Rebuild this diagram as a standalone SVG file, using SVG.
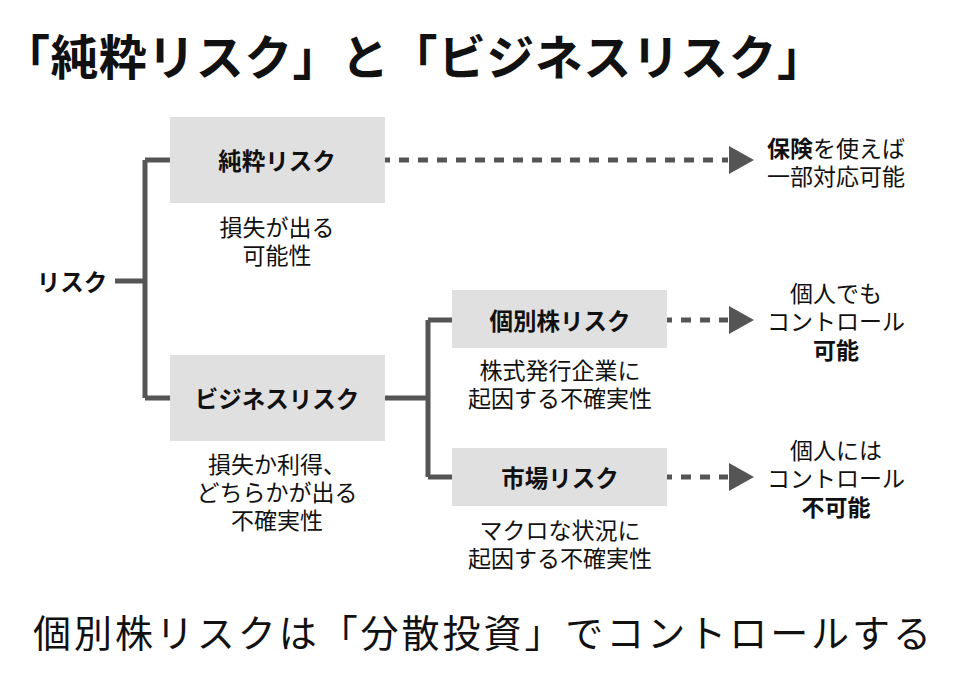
<svg xmlns="http://www.w3.org/2000/svg" width="968" height="679" viewBox="0 0 968 679">
<style>
text{font-family:"Noto Sans CJK JP","Noto Sans CJK SC",sans-serif;fill:#111;text-anchor:middle;dominant-baseline:central}
.b{font-weight:bold}
.lbl{font-size:23.5px;font-weight:bold}
.d{font-size:23px}
.box{fill:#e0e0e0}
.ln{stroke:#555;stroke-width:5;fill:none}
.dash{stroke:#555;stroke-width:5;fill:none;stroke-dasharray:10 9;stroke-dashoffset:5}
.ah{fill:#555}
</style>
<rect width="968" height="679" fill="#fff"/>
<text x="2" y="54" textLength="823" lengthAdjust="spacing" style="text-anchor:start;font-size:48px;font-weight:bold">「純粋リスク」と「ビジネスリスク」</text>

<g id="connectors">
<path class="ln" d="M115 281H145M145 160V398M145 160H170M145 398H170"/>
<path class="ln" d="M385 398H428M428 320V477M428 320H452M428 477H452"/>
<path class="dash" d="M385 160H728"/>
<path class="dash" d="M667 320H728"/>
<path class="dash" d="M667 477H728"/>
<polygon class="ah" points="729,146 754,160 729,174"/>
<polygon class="ah" points="729,306 754,320 729,334"/>
<polygon class="ah" points="729,463 754,477 729,491"/>
</g>

<g id="risk"><text class="lbl" x="72" y="281">リスク</text></g>

<g id="pure">
<rect class="box" x="170" y="117" width="215" height="86"/>
<text class="lbl" x="277" y="160">純粋リスク</text>
<text class="d" x="277" y="226">損失が出る</text>
<text class="d" x="277" y="254">可能性</text>
</g>

<g id="business">
<rect class="box" x="170" y="355" width="215" height="86"/>
<text class="lbl" x="277" y="398">ビジネスリスク</text>
<text class="d" x="277" y="463">損失か利得、</text>
<text class="d" x="277" y="491">どちらかが出る</text>
<text class="d" x="277" y="519">不確実性</text>
</g>

<g id="individual">
<rect class="box" x="452" y="290" width="215" height="58"/>
<text class="lbl" x="560" y="320">個別株リスク</text>
<text class="d" x="560" y="369">株式発行企業に</text>
<text class="d" x="560" y="397">起因する不確実性</text>
</g>

<g id="market">
<rect class="box" x="452" y="448" width="215" height="58"/>
<text class="lbl" x="560" y="477">市場リスク</text>
<text class="d" x="560" y="529">マクロな状況に</text>
<text class="d" x="560" y="557">起因する不確実性</text>
</g>

<g id="insurance">
<text class="d" x="836" y="147"><tspan class="b">保険</tspan>を使えば</text>
<text class="d" x="836" y="175">一部対応可能</text>
</g>

<g id="controllable">
<text class="d" x="836" y="292">個人でも</text>
<text class="d" x="836" y="320">コントロール</text>
<text class="d b" x="836" y="349">可能</text>
</g>

<g id="uncontrollable">
<text class="d" x="836" y="449">個人には</text>
<text class="d" x="836" y="477">コントロール</text>
<text class="d b" x="836" y="506">不可能</text>
</g>

<text x="33" y="630" textLength="898" lengthAdjust="spacing" style="text-anchor:start;font-size:38px">個別株リスクは「分散投資」でコントロールする</text>
</svg>
